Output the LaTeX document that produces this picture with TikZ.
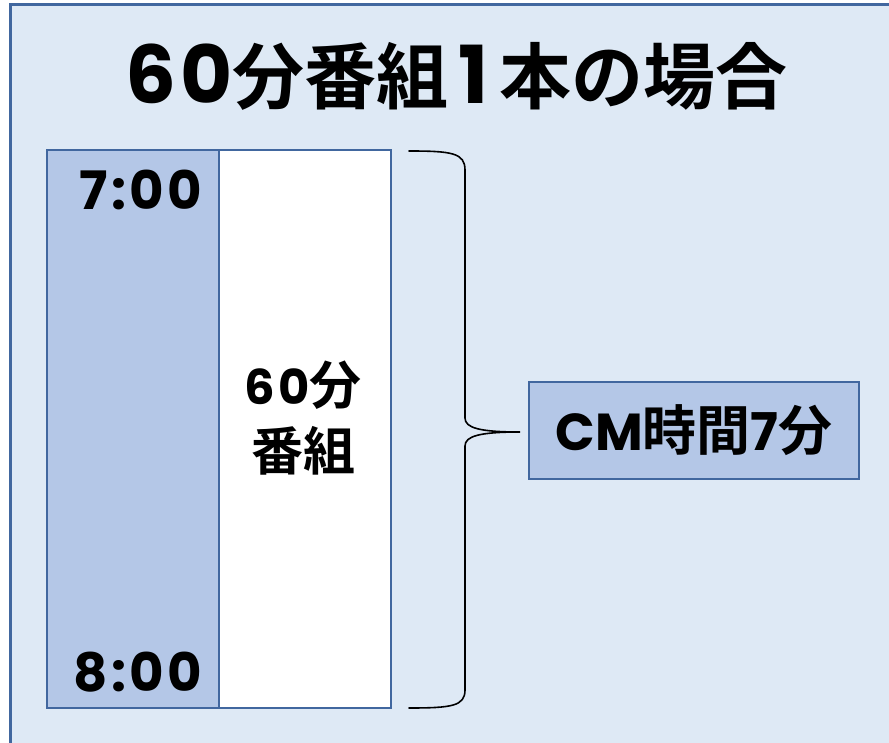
\documentclass[tikz,border=0pt]{standalone}
\usepackage{fontspec}
\newfontfamily\jp[BoldFont={Noto Sans CJK JP Bold}]{Noto Sans CJK JP}
\newfontfamily\lat{Poppins}
\newfontfamily\latsp[LetterSpace=6]{Poppins}
\definecolor{bgblue}{HTML}{DEE9F5}
\definecolor{edgeblue}{HTML}{41679F}
\definecolor{colblue}{HTML}{B4C7E7}
\tikzset{
  panel/.style={draw=edgeblue, line width=2pt, inner sep=0pt, outer sep=0pt},
  lbl/.style={font=\jp\bfseries, text=black, inner sep=0pt},
  timelbl/.style={font=\latsp\bfseries\fontsize{53}{56}\selectfont, text=black, inner sep=0pt, anchor=east},
  brace/.style={draw=black, line width=1.6pt, line cap=round},
}
\begin{document}
\begin{tikzpicture}[x=1pt, y=-1pt]
\useasboundingbox (0,0) rectangle (889,743);
\begin{scope}
\clip (0,0) rectangle (889,743);
\draw[fill=bgblue, draw=edgeblue, line width=3pt] (10,5) rectangle (900,760);
\end{scope}
% title
\node[lbl, font=\jp\bfseries\fontsize{72}{76}\selectfont] (title) at (456,76)
  {{\latsp\bfseries\fontsize{80}{80}\selectfont 60}分番組\hspace{10pt}{\lat\bfseries\fontsize{80}{80}\selectfont 1}\hspace{10pt}本の場合};
% time column
\node[panel, fill=colblue, minimum width=172pt, minimum height=558pt] (timecol) at (133,429) {};
\node[panel, fill=white, minimum width=172pt, minimum height=558pt] (prog) at (305,429) {};
\node[timelbl] (t7) at (202,190) {7:00};
\node[timelbl] (t8) at (202,672) {8:00};
\node[lbl, font=\jp\bfseries\fontsize{52}{66}\selectfont, align=center] (progtxt) at (303,418) {{\latsp\bfseries\fontsize{48}{48}\selectfont 60}分\\番組};
% CM box
\node[panel, fill=colblue, minimum width=330pt, minimum height=97pt] (cm) at (694,430) {};
\node[lbl, font=\jp\bfseries\fontsize{54}{56}\selectfont] (cmtxt) at (694,430) {{\lat\bfseries\fontsize{52}{56}\selectfont CM}時間{\lat\bfseries\fontsize{52}{56}\selectfont 7}分};
% brace
\coordinate (btop) at (409,151);
\coordinate (bbot) at (409,708);
\coordinate (tip) at (520,432);
\draw[brace] (btop) .. controls (452,151) and (465,153) .. (465,170)
  -- (465,418) .. controls (465,428) and (480,432) .. (tip)
  .. controls (480,432) and (465,436) .. (465,446)
  -- (465,690) .. controls (465,706) and (452,708) .. (bbot);
\end{tikzpicture}
\end{document}
